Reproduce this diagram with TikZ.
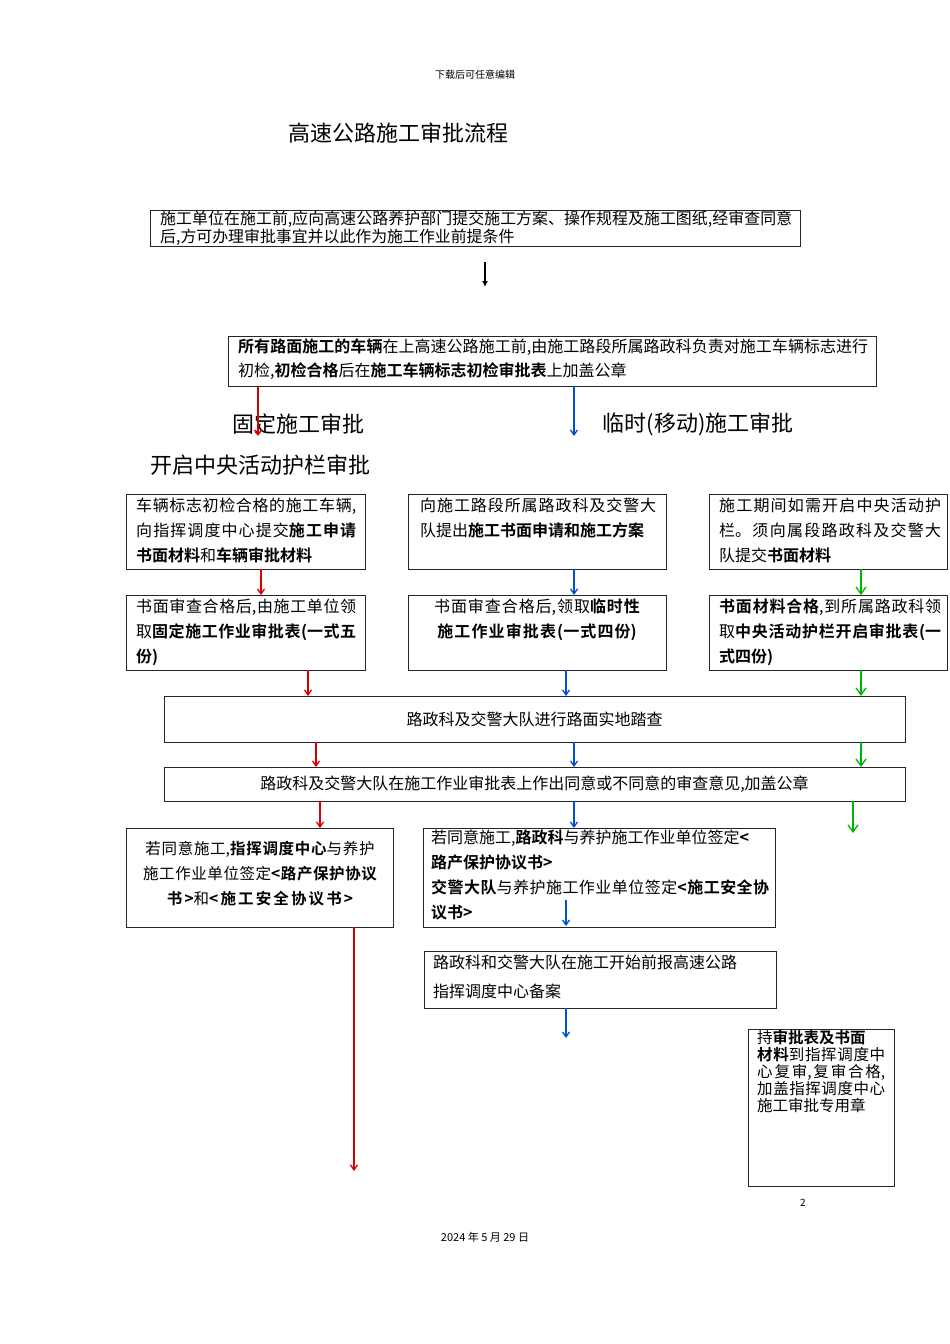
\documentclass[tikz,border=0pt]{standalone}
\usepackage{fontspec}
\setmainfont{Noto Sans CJK SC}
\newfontfamily\cjkb{Noto Sans CJK SC Bold}
\usetikzlibrary{arrows.meta}
\XeTeXlinebreaklocale "zh"
\XeTeXlinebreakskip=0pt plus 2pt
\tikzset{
 bx/.style={draw=black!85,line width=0.8pt,inner sep=0pt,outer sep=0pt},
 tx/.style={align=justify,font=\fontsize{16}{25}\selectfont,inner sep=0pt},
 ra/.style={draw=red!85!black,line width=1.3pt,-{Straight Barb[length=5pt,width=7pt]}},
 ba/.style={draw=blue!60!cyan!80!black,line width=1.3pt,-{Straight Barb[length=5pt,width=7pt]}},
 ga/.style={draw=green!70!black,line width=1.3pt,-{Straight Barb[length=7pt,width=10pt]}},
 ka/.style={draw=black,line width=1.6pt,-{Latex[length=6pt,width=6pt]}}
}
\newcommand{\bb}[1]{{\cjkb #1}}
\begin{document}
\begin{tikzpicture}[x=1pt,y=-1pt]
\useasboundingbox (0,0) rectangle (950,1344);
\node[font=\fontsize{10}{12}\selectfont] (hd) at (475,75) {下载后可任意编辑};
\node[font=\fontsize{22}{24}\selectfont] (ttl) at (398,133) {高速公路施工审批流程};
% box 1
\draw[bx] (150,210) rectangle (800,246);
\node[tx,text width=632,font=\fontsize{15.9}{16}\selectfont,anchor=north west] (t1) at (160,211) {施工单位在施工前,应向高速公路养护部门提交施工方案、操作规程及施工图纸,经审查同意后,方可办理审批事宜并以此作为施工作业前提条件};
\coordinate (b1s) at (485,262); \coordinate (b1e) at (485,287);
\draw[ka] (b1s) -- (b1e);
% box 2
\draw[bx] (228,336) rectangle (876,386);
\node[tx,text width=630,font=\fontsize{16}{24}\selectfont,anchor=north west] (t2) at (238,339) {\bb{所有路面施工的车辆}在上高速公路施工前,由施工路段所属路政科负责对施工车辆标志进行初检,\bb{初检合格}后在\bb{施工车辆标志初检审批表}上加盖公章};
\node[font=\fontsize{22}{24}\selectfont] (l1) at (298,424) {固定施工审批};
\node[font=\fontsize{22}{24}\selectfont] (l2) at (698,424) {临时(移动)施工审批};
\node[font=\fontsize{22}{24}\selectfont] (l3) at (260,465) {开启中央活动护栏审批};
\coordinate (r0s) at (258,386); \coordinate (r0e) at (258,436);
\coordinate (u0s) at (574,386); \coordinate (u0e) at (574,436);
\draw[ra] (r0s) -- (r0e); \draw[ba] (u0s) -- (u0e);
% row 1
\node[bx,minimum width=239,minimum height=75,anchor=north west] (A1) at (126,494) {};
\node[bx,minimum width=258,minimum height=75,anchor=north west] (B1) at (408,494) {};
\node[bx,minimum width=238,minimum height=75,anchor=north west] (C1) at (709,494) {};
\node[tx,text width=220,anchor=north west] at (136,498) {车辆标志初检合格的施工车辆,向指挥调度中心提交\bb{施工申请书面材料}和\bb{车辆审批材料}};
\node[tx,text width=236,anchor=north west] at (420,498) {向施工路段所属路政科及交警大队提出\bb{施工书面申请和施工方案}};
\node[tx,text width=222,anchor=north west] at (719,498) {施工期间如需开启中央活动护栏。须向属段路政科及交警大队提交\bb{书面材料}};
% row 2
\node[bx,minimum width=239,minimum height=75,anchor=north west] (A2) at (126,595) {};
\node[bx,minimum width=258,minimum height=75,anchor=north west] (B2) at (408,595) {};
\node[bx,minimum width=238,minimum height=75,anchor=north west] (C2) at (709,595) {};
\node[tx,text width=220,anchor=north west] at (136,599) {书面审查合格后,由施工单位领取\bb{固定施工作业审批表(一式五份)}};
\node[tx,text width=236,align=center,anchor=north] at (537,599) {书面审查合格后,领取\bb{临时性施工作业审批表(一式四份)}};
\node[tx,text width=222,anchor=north west] at (719,599) {\bb{书面材料合格},到所属路政科领取\bb{中央活动护栏开启审批表(一式四份)}};
\draw[ra] (A1.south -| 261,0) -- (A2.north -| 261,0);
\draw[ba] (B1.south -| 574,0) -- (B2.north -| 574,0);
\draw[ga] (C1.south -| 861,0) -- (C2.north -| 861,0);
% D,E
\node[bx,minimum width=741,minimum height=46,anchor=north west,font=\fontsize{16}{16}\selectfont] (D) at (164,696) {路政科及交警大队进行路面实地踏查};
\node[bx,minimum width=741,minimum height=34,anchor=north west,font=\fontsize{16}{16}\selectfont] (E) at (164,767) {路政科及交警大队在施工作业审批表上作出同意或不同意的审查意见,加盖公章};
\draw[ra] (A2.south -| 308,0) -- (D.north -| 308,0);
\draw[ba] (B2.south -| 566,0) -- (D.north -| 566,0);
\draw[ga] (C2.south -| 861,0) -- (D.north -| 861,0);
\draw[ra] (D.south -| 316,0) -- (E.north -| 316,0);
\draw[ba] (D.south -| 574,0) -- (E.north -| 574,0);
\draw[ga] (D.south -| 861,0) -- (E.north -| 861,0);
% F
\node[bx,minimum width=267,minimum height=99,anchor=north west] (F1) at (126,828) {};
\node[bx,minimum width=352,minimum height=99,anchor=north west] (F2) at (423,828) {};
\node[tx,text width=252,align=center,anchor=north,font=\fontsize{15.5}{25}\selectfont] at (260,841) {若同意施工,\bb{指挥调度中心}与养护施工作业单位签定\bb{<路产保护协议}\\\bb{书>}和\bb{<施工安全协议书>}};
\node[tx,text width=338,anchor=north west] at (431,830) {若同意施工,\bb{路政科}与养护施工作业单位签定\bb{<}\\\bb{路产保护协议书>}\\\bb{交警大队}与养护施工作业单位签定\bb{<施工安全协议书>}};
\draw[ra] (E.south -| 320,0) -- (F1.north -| 320,0);
\draw[ba] (E.south -| 574,0) -- (F2.north -| 574,0);
\coordinate (g3e) at (853,833);
\draw[ga] (E.south -| 853,0) -- (g3e);
\coordinate (f2a) at (566,900); \coordinate (f2b) at (566,926);
\draw[ba] (f2a) -- (f2b);
% G
\node[bx,minimum width=352,minimum height=57,anchor=north west] (G) at (424,951) {};
\node[tx,text width=334,font=\fontsize{16}{29}\selectfont,anchor=north west] at (433,955) {路政科和交警大队在施工开始前报高速公路\\指挥调度中心备案};
\coordinate (gbe) at (566,1038);
\draw[ba] (G.south -| 566,0) -- (gbe);
\coordinate (rle) at (354,1171);
\draw[ra] (F1.south -| 354,0) -- (rle);
% H
\node[bx,minimum width=146,minimum height=157,anchor=north west] (H) at (748,1029) {};
\node[tx,text width=128,font=\fontsize{15.5}{17}\selectfont,anchor=north west] at (757,1030) {持\bb{审批表及书面}\\\bb{材料}到指挥调度中心复审,复审合格,加盖指挥调度中心施工审批专用章};
\node[font=\fontsize{10}{12}\selectfont] (pg) at (803,1203) {2};
\node[font=\fontsize{11}{12}\selectfont] (dt) at (485,1237) {2024 年 5 月 29 日};
\end{tikzpicture}
\end{document}
